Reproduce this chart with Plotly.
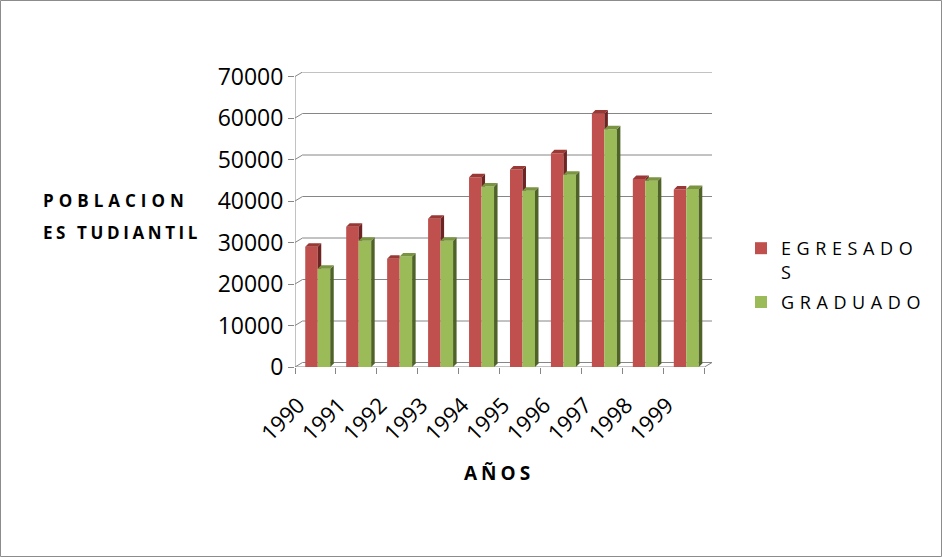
import plotly.graph_objects as go

# ---------------- data ----------------
years = ["1990", "1991", "1992", "1993", "1994", "1995", "1996", "1997", "1998", "1999"]
egresados = [29000, 33800, 26100, 35700, 45700, 47600, 51500, 61100, 45300, 42800]
graduados = [23700, 30400, 26600, 30400, 43500, 42500, 46300, 57300, 44900, 42900]
y_ticks = [0, 10000, 20000, 30000, 40000, 50000, 60000, 70000]
name_egr_lines = ["EGRESADO", "S"]
name_grad = "GRADUADO"
y_title_1 = "POBLACION"
y_title_2 = "ES TUDIANTIL"
x_title = "AÑOS"

# ---------------- style / geometry ----------------
W, H = 943, 558
PL, PR, PT, PB = 295, 712, 72, 367          # plot area in px
WALL_DX, WALL_DY = 7.5, 4.5                 # back wall offset (px)
BAR_DX, BAR_DY = 3.5, 3.5                   # bar depth (px)
YMAX = y_ticks[-1]
n = len(years)

cat_px = ((PR - PL) - WALL_DX) / n
k = ((PB - PT) - WALL_DY) / YMAX            # px per unit
wdx, wdy = WALL_DX / cat_px, WALL_DY / k
bdx, bdy = BAR_DX / cat_px, BAR_DY / k
x_lo, x_hi = -0.5, n - 0.5
bw = 12.5 / cat_px
off_egr, off_grad = -0.25, -0.25 + bw

RED, GREEN = "#C0504D", "#9BBB59"
RED_SIDE, GREEN_SIDE = "#6E2422", "#4F6228"
RED_TOP, GREEN_TOP = "#9A3835", "#7A9442"
GRID = "#868686"
FONT = "Open Sans"

def px2paper_x(p):
    return (p - PL) / (PR - PL)

def px2paper_y(p):
    return (PB - p) / (PB - PT)

def ls(text, sp):
    return f'<span style="letter-spacing:{sp}px">{text}</span>'

fig = go.Figure()
fig.add_trace(go.Bar(x=list(range(n)), y=egresados, width=bw, offset=off_egr,
                     marker=dict(color=RED, line=dict(width=0)), legendgroup="egr",
                     name="<br>".join(ls(s, 5.6) for s in name_egr_lines)))
fig.add_trace(go.Bar(x=list(range(n)), y=graduados, width=bw, offset=off_grad,
                     marker=dict(color=GREEN, line=dict(width=0)), legendgroup="grad",
                     name=ls(name_grad, 5.6)))

shapes = []
# back wall grid lines + connectors from front axis
for t in y_ticks:
    shapes.append(dict(type="path", layer="below", xref="x", yref="y",
                       path=f"M {x_lo},{t} L {x_lo + wdx},{t + wdy} L {x_hi + wdx},{t + wdy}",
                       line=dict(color=GRID, width=1)))
# front baseline + right floor edge
shapes.append(dict(type="path", layer="below", xref="x", yref="y",
                   path=f"M {x_lo},0 L {x_hi},0 L {x_hi + wdx},{wdy}",
                   line=dict(color=GRID, width=1)))
# front value axis line
shapes.append(dict(type="line", layer="below", xref="x", yref="y",
                   x0=x_lo, x1=x_lo, y0=0, y1=YMAX, line=dict(color=GRID, width=1)))

def poly(pts, color):
    p = "M " + " L ".join(f"{a},{b}" for a, b in pts) + " Z"
    return dict(type="path", layer="above", xref="x", yref="y", path=p,
                fillcolor=color, line=dict(width=0))

for i in range(n):
    e, g = egresados[i], graduados[i]
    exl, exr = i + off_egr, i + off_egr + bw
    gxl, gxr = i + off_grad, i + off_grad + bw
    # red top and side
    if e > g:
        shapes.append(poly([(exr, g), (exr, e), (exr + bdx, e + bdy), (exr + bdx, g)], RED_SIDE))
        shapes.append(poly([(exl, e), (exr, e), (exr + bdx, e + bdy), (exl + bdx, e + bdy)], RED_TOP))
    else:
        shapes.append(poly([(exl, e), (exr, e), (exr, e + bdy), (exl + bdx, e + bdy)], RED_TOP))
    # green side and top
    shapes.append(poly([(gxr, 0), (gxr, g), (gxr + bdx, g + bdy), (gxr + bdx, bdy)], GREEN_SIDE))
    shapes.append(poly([(gxl, g), (gxr, g), (gxr + bdx, g + bdy), (gxl + bdx, g + bdy)], GREEN_TOP))

# outer chart border
shapes.append(dict(type="rect", xref="paper", yref="paper", layer="below",
                   x0=px2paper_x(0.5), x1=px2paper_x(W - 1.5),
                   y0=px2paper_y(H - 1.5), y1=px2paper_y(0.5),
                   line=dict(color="#8C8C8C", width=1)))

annotations = [
    dict(text=ls("<b>" + y_title_1 + "</b>", 5), xref="paper", yref="paper",
         x=px2paper_x(41), y=px2paper_y(200), xanchor="left", yanchor="middle",
         showarrow=False, font=dict(family=FONT, size=17, color="#000")),
    dict(text=ls("<b>" + y_title_2 + "</b>", 3.6), xref="paper", yref="paper",
         x=px2paper_x(41), y=px2paper_y(232), xanchor="left", yanchor="middle",
         showarrow=False, font=dict(family=FONT, size=17, color="#000")),
    dict(text=ls("<b>" + x_title + "</b>", 4), xref="paper", yref="paper",
         x=px2paper_x(499), y=px2paper_y(473), xanchor="center", yanchor="middle",
         showarrow=False, font=dict(family=FONT, size=19, color="#000")),
]

fig.update_layout(
    width=W, height=H,
    margin=dict(l=PL, r=W - PR, t=PT, b=H - PB, autoexpand=False),
    paper_bgcolor="white", plot_bgcolor="white",
    barmode="overlay",
    showlegend=True,
    legend=dict(x=px2paper_x(741), y=px2paper_y(230), xanchor="left", yanchor="top",
                font=dict(family=FONT, size=18, color="#000"), valign="top",
                tracegroupgap=4, bgcolor="rgba(0,0,0,0)", itemwidth=30),
    xaxis=dict(range=[x_lo, x_hi + wdx], tickmode="array", tickvals=list(range(n)),
               ticktext=years, tickangle=-45, showgrid=False, zeroline=False,
               showline=False, ticks="", ticklabelshift=-17, ticklabelstandoff=20,
               tickfont=dict(family=FONT, size=22, color="#000"),
               minor=dict(tickmode="array", tickvals=[x_lo + j for j in range(n + 1)],
                          ticks="outside", ticklen=6, tickcolor=GRID, showgrid=False)),
    yaxis=dict(range=[0, YMAX + wdy], tickmode="array", tickvals=y_ticks,
               ticktext=[str(t) for t in y_ticks], showgrid=False, zeroline=False,
               showline=False, ticks="outside", ticklen=6, tickcolor=GRID,
               tickfont=dict(family=FONT, size=23, color="#000")),
    shapes=shapes,
    annotations=annotations,
)

fig.write_html("out.html", config={"displayModeBar": False},
               post_script="document.body.style.margin='0';")
